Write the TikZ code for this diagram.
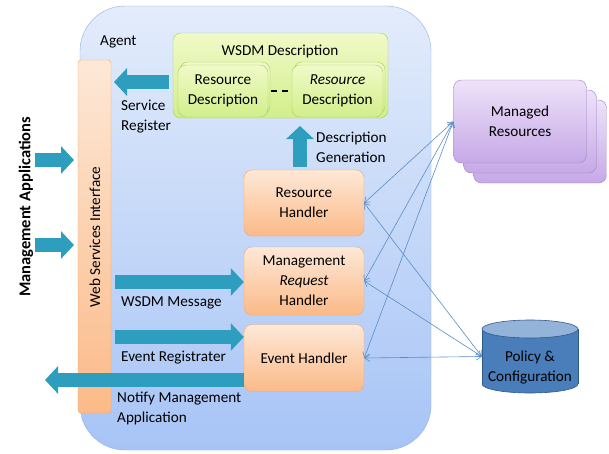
\documentclass[tikz,border=0pt]{standalone}
\usepackage{fontspec}
\setmainfont{Carlito}
\usetikzlibrary{arrows.meta}
\definecolor{tealA}{RGB}{45,158,190}
\definecolor{agentTop}{HTML}{E3ECFB}
\definecolor{agentBot}{HTML}{A7C4F6}
\definecolor{agentLine}{HTML}{8BB0E6}
\definecolor{peachTop}{HTML}{FDE8D7}
\definecolor{peachBot}{HTML}{FBBA88}
\definecolor{peachLine}{HTML}{F0A868}
\definecolor{greenTop}{HTML}{F0FAC8}
\definecolor{greenBot}{HTML}{D2EE8A}
\definecolor{greenLine}{HTML}{A6CF57}
\definecolor{purpTop}{HTML}{EEE2F9}
\definecolor{purpBot}{HTML}{C6A9E7}
\definecolor{purpLine}{HTML}{9D80C3}
\definecolor{polBody}{HTML}{4A7EBB}
\definecolor{polTop}{HTML}{94B3D8}
\definecolor{polLine}{HTML}{2E5A8C}
\definecolor{connC}{HTML}{5A8DC8}
\begin{document}
\begin{tikzpicture}[x=1pt,y=-1pt,
  font=\fontsize{15.2}{20}\selectfont,
  agentbox/.style={draw=agentLine, top color=agentTop, bottom color=agentBot, rounded corners=45pt, minimum width=351pt, minimum height=444pt},
  wsibox/.style={draw=peachLine, top color=peachTop, bottom color=peachBot, rounded corners=3pt, minimum width=33pt, minimum height=353pt},
  handler/.style={draw=peachLine, top color=peachTop, bottom color=peachBot, rounded corners=8pt, minimum width=120pt, align=center, inner sep=0pt},
  greenbox/.style={draw=greenLine, top color=greenTop, bottom color=greenBot, rounded corners=8pt, align=center, inner sep=0pt},
  purpbox/.style={draw=purpLine, top color=purpTop, bottom color=purpBot, rounded corners=8pt, minimum width=133pt, minimum height=83pt, align=center, inner sep=0pt},
  fat/.style={draw=tealA, line width=14pt, -{Triangle[width=27pt,length=13pt]}},
  conn/.style={draw=connC, line width=0.6pt, {Straight Barb[length=5pt,width=7pt]}-{Straight Barb[length=5pt,width=7pt]}},
  lbl/.style={align=left, inner sep=0pt}
]
\useasboundingbox (0,0) rectangle (609,453);

% Agent container
\node[agentbox] (agent) at (255.5,228) {};
\node[lbl, anchor=west] (agentlbl) at (100,42) {Agent};

% Web services interface
\node[wsibox] (wsi) at (94.5,236.5) {};
\node[rotate=90] (wsilbl) at (95,237) {Web Services Interface};

% WSDM description
\node[greenbox, minimum width=215pt, minimum height=85pt] (wsdm) at (280.5,75.5) {};
\node (wsdmlbl) at (280,51) {WSDM Description};
\node[greenbox, minimum width=90pt, minimum height=52pt] (rd1s) at (225,88) {};
\node[greenbox, minimum width=90pt, minimum height=52pt] (rd1) at (223,91) {Resource\\Description};
\node[greenbox, minimum width=91pt, minimum height=52pt] (rd2s) at (339.5,88) {};
\node[greenbox, minimum width=91pt, minimum height=52pt] (rd2) at (337.5,91) {\textit{Resource}\\Description};
\draw[line width=2.2pt] (271,91) -- (277,91) (282,91) -- (288,91);

% Handlers
\node[handler, minimum height=66pt] (rh) at (304,203) {Resource\\Handler};
\node[handler, minimum height=68pt] (mrh) at (304,281) {Management\\\textit{Request}\\Handler};
\node[handler, minimum height=67pt] (eh) at (304,358) {Event Handler};

% Managed resources
\node[purpbox] (mr3) at (540,141.5) {};
\node[purpbox] (mr2) at (530,131.5) {};
\node[purpbox] (mr) at (520,121.5) {Managed\\Resources};

% Policy & configuration cylinder
\fill[polBody, draw=polLine, line width=0.6pt] (530,384) ellipse [x radius=48, y radius=9];
\fill[polBody] (482,329) rectangle (578,384);
\draw[polLine, line width=0.6pt] (482,329) -- (482,384) (578,329) -- (578,384);
\filldraw[fill=polTop, draw=polLine, line width=0.6pt] (530,329) ellipse [x radius=48, y radius=9];
\node[align=center, inner sep=0pt, minimum width=96pt, minimum height=73pt] (pol) at (530,356.5) {};
\node[align=center] (pollbl) at (530,368) {Policy \&\\Configuration};

% Fat arrows
\coordinate (srA) at (169,82);
\coordinate (srB) at (114,82);
\draw[fat] (srA) -- (srB);
\node[lbl, anchor=west] (srlbl) at (121,117) {Service\\Register};

\coordinate (dgA) at (300,167);
\coordinate (dgB) at (300,126);
\draw[fat] (dgA) -- (dgB);
\node[lbl, anchor=west] (dglbl) at (316,147) {Description\\Generation};

\coordinate (ma1A) at (35,160);
\coordinate (ma1B) at (74,160);
\draw[fat] (ma1A) -- (ma1B);
\coordinate (ma2A) at (35,245);
\coordinate (ma2B) at (74,245);
\draw[fat] (ma2A) -- (ma2B);
\node[rotate=90, font=\fontsize{16.5}{20}\selectfont\bfseries] (malbl) at (26,207) {Management Applications};

\coordinate (wmA) at (115,282);
\draw[fat] (wmA) -- (mrh.west |- wmA);
\node[lbl, anchor=west] (wmlbl) at (121,303) {WSDM Message};

\coordinate (erA) at (115,337);
\draw[fat] (erA) -- (eh.west |- erA);
\node[lbl, anchor=west] (erlbl) at (121,358) {Event Registrater};

\coordinate (nmA) at (244,380);
\coordinate (nmB) at (45,380);
\draw[fat] (nmA) -- (nmB);
\node[lbl, anchor=west] (nmlbl) at (117,408) {Notify Management\\Application};

% Thin connectors
\draw[conn] (mr.west) -- (rh.east);
\draw[conn] (mr.west) -- (mrh.east);
\draw[conn] (mr.west) -- (eh.east);
\draw[conn] (pol.west) -- (rh.east);
\draw[conn] (pol.west) -- (mrh.east);
\draw[conn] (pol.west) -- (eh.east);
\end{tikzpicture}
\end{document}
